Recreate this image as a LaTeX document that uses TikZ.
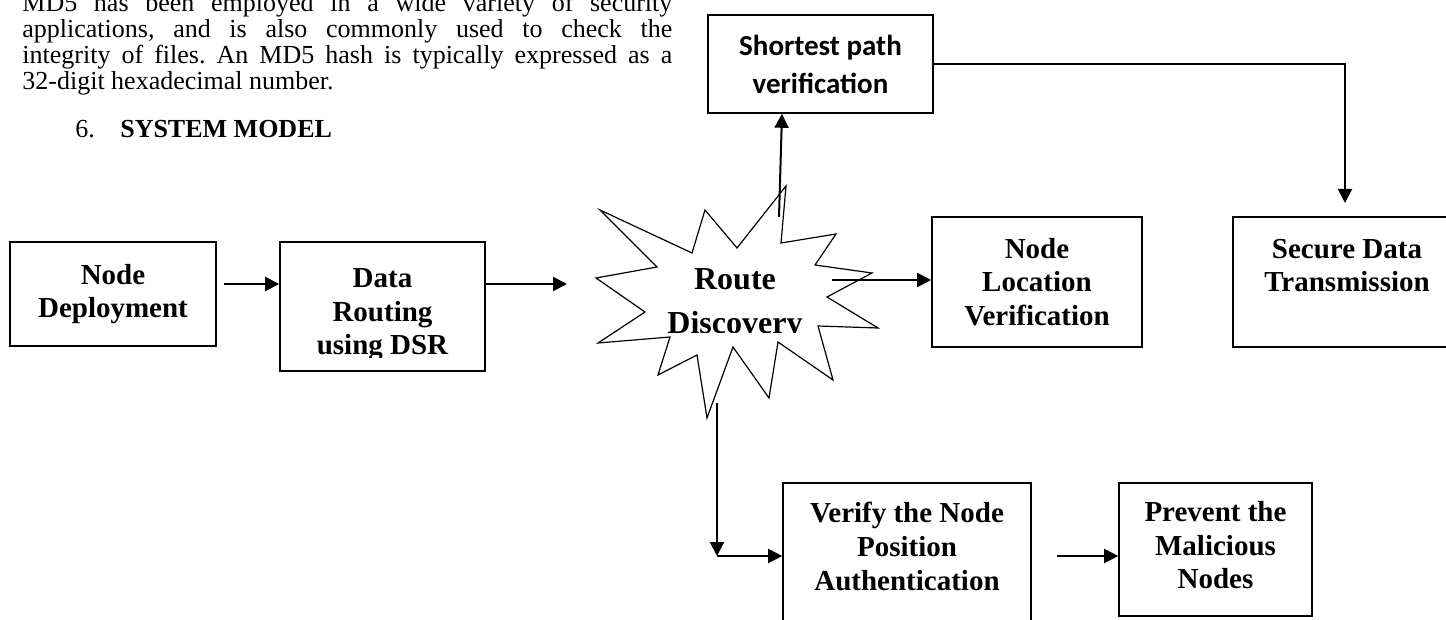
\documentclass[tikz,border=0pt]{standalone}
\usepackage{fontspec}
\setmainfont{Liberation Serif}
\newfontfamily\calibri{Carlito}
\usetikzlibrary{arrows.meta,positioning}
\frenchspacing

\begin{document}
\begin{tikzpicture}[x=0.5pt,y=-0.5pt,>={Triangle[length=7pt,width=7pt]}]
  \tikzstyle{box}=[rectangle,draw,line width=0.8pt,inner sep=0pt,align=center,
                   font=\bfseries\fontsize{14.5}{16.8}\selectfont]
  \tikzstyle{cbox}=[box,font=\calibri\bfseries\fontsize{14.5}{19}\selectfont]
  \tikzstyle{star text}=[inner sep=0pt,align=center,
                         font=\bfseries\fontsize{16}{22}\selectfont]
  \tikzstyle{para}=[inner sep=0pt,text width=325pt,align=justify,
                    font=\fontsize{13}{13}\selectfont]
  \tikzstyle{link}=[->,line width=1pt]
  \useasboundingbox (0,0) rectangle (1446,620);
  \clip (0,0) rectangle (1446,620);
  % running text of the page
  \node [para,anchor=north west] (txt) at (22,-7)
    {MD5 has been employed in a wide variety of security\linebreak
     applications, and is also commonly used to check the\linebreak
     integrity of files. An MD5 hash is typically expressed as a\linebreak
     32-digit hexadecimal number.};
  \node [anchor=base west,inner sep=0pt,font=\fontsize{13}{15.5}\selectfont]
    (head) at (75,138) {6.\hspace{12.7pt}\textbf{SYSTEM MODEL}};
  % boxes
  \node [box,minimum width=103pt,minimum height=52pt] (nd) at (113,294)
    {Node\\Deployment};
  \node [box,minimum width=102.5pt,minimum height=64.5pt] (dsr) at (382.5,306.5) {};
  \begin{scope}
    \clip (282,240) rectangle (484,357);
    \node [box,draw=none] (dsrtxt) at (382.5,315) {Data\\Routing\\using DSR};
  \end{scope}
  \node [box,minimum width=105pt,minimum height=65pt] (nlv) at (1037,282)
    {Node\\Location\\Verification};
  \node [cbox,minimum width=112.5pt,minimum height=49pt] (spv) at (820.5,64)
    {Shortest path\\verification};
  \node [box,minimum width=114pt,minimum height=65.25pt] (sdt) at (1347,282)
    {Secure Data\\Transmission\\\mbox{}};
  \node [box,minimum width=124pt,minimum height=80pt] (vnp) at (907,563)
    {Verify the Node\\Position\\Authentication\\\mbox{}};
  \node [box,minimum width=96.5pt,minimum height=66.5pt,text depth=4.5pt]
    (pmn) at (1215.5,549.5) {Prevent the\\Malicious\\Nodes};
  % route discovery star
  \draw [line width=0.6pt,fill=white] (600,210) -- (692,253) -- (705,210) -- (737,248)
    -- (786,186) -- (781,243) -- (836,234) -- (815,265) -- (872,273) -- (827,297)
    -- (878,328) -- (818,326) -- (833,380) -- (778,342) -- (769,398) -- (733,347)
    -- (707,418) -- (697,355) -- (658,375) -- (670,337) -- (598,343) -- (645,312)
    -- (596,278) -- (657,267) -- cycle;
  \begin{scope}
    \clip (580,180) rectangle (900,333);
    \node [star text] (rd) at (735,304) {Route\\Discovery};
  \end{scope}
  % connectors
  \coordinate (a1) at (224,284);
  \coordinate (a2) at (567,284);
  \coordinate (a3) at (832,280);
  \coordinate (a4) at (779,217);
  \coordinate (a6) at (1345,203);
  \coordinate (a7) at (717,403);
  \coordinate (a8) at (717,556);
  \coordinate (a9) at (1057,556);
  \draw [link] (a1) -- (a1 -| dsr.west);
  \draw [link] (a2 -| dsr.east) -- (a2);
  \draw [link] (a3) -- (a3 -| nlv.west);
  \draw [link] (a4) -- ([xshift=-19.25pt]spv.south);
  \draw [link] (spv.east) -- (spv.east -| a6) -- (a6);
  \draw [link] (a7) -- (a8);
  \draw [link] (a8) -- (a8 -| vnp.west);
  \draw [link] (a9) -- (a9 -| pmn.west);
\end{tikzpicture}
\end{document}
